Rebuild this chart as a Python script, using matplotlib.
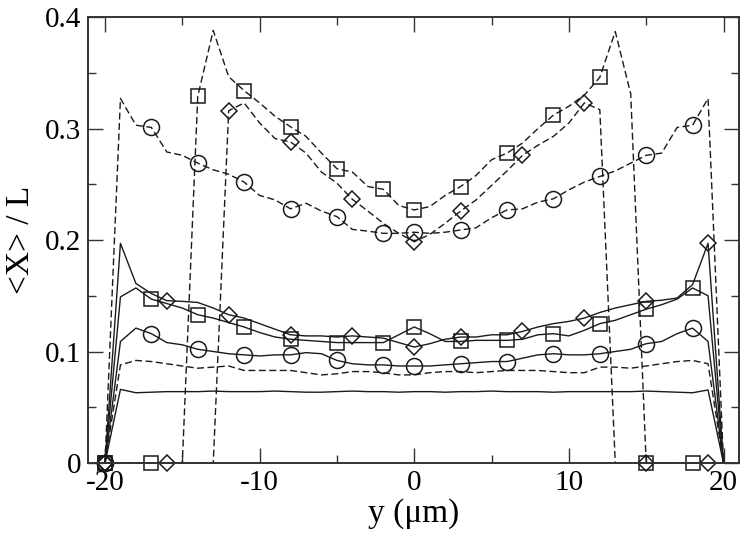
import numpy as np
import matplotlib
matplotlib.use("Agg")
import matplotlib.pyplot as plt
from matplotlib.ticker import MultipleLocator

plt.rcParams['font.family'] = ['Liberation Serif', 'DejaVu Serif']
plt.rcParams['axes.unicode_minus'] = False

# position across the channel (um)
y = list(range(-20, 21))

# solid, no symbols (lowest)
plain_solid = [0, 0.066, 0.063, 0.0635, 0.064, 0.064, 0.064, 0.0645, 0.064, 0.064,
               0.064, 0.0645, 0.064, 0.0635, 0.0635, 0.064, 0.0645, 0.064, 0.064, 0.0635,
               0.064, 0.064, 0.0635, 0.064, 0.064, 0.0645, 0.064, 0.064, 0.064, 0.0635,
               0.064, 0.064, 0.064, 0.064, 0.064, 0.0645, 0.064, 0.0635, 0.063, 0.0655, 0]
# dashed, no symbols
plain_dashed = [0, 0.088, 0.092, 0.091, 0.089, 0.087, 0.085, 0.086, 0.087, 0.083,
                0.083, 0.083, 0.083, 0.081, 0.079, 0.080, 0.082, 0.082, 0.081, 0.079,
                0.079, 0.081, 0.082, 0.082, 0.081, 0.082, 0.083, 0.083, 0.083, 0.082,
                0.081, 0.081, 0.086, 0.086, 0.085, 0.087, 0.089, 0.091, 0.092, 0.089, 0]
# solid with circles
solid_circ = [0, 0.109, 0.121, 0.116, 0.108, 0.106, 0.102, 0.100, 0.098, 0.097,
              0.096, 0.097, 0.097, 0.099, 0.098, 0.092, 0.089, 0.088, 0.088, 0.087,
              0.087, 0.087, 0.088, 0.089, 0.090, 0.091, 0.091, 0.094, 0.097, 0.098,
              0.097, 0.097, 0.098, 0.100, 0.102, 0.107, 0.109, 0.116, 0.121, 0.109, 0]
# solid with squares
solid_sq = [0, 0.149, 0.157, 0.147, 0.143, 0.139, 0.133, 0.130, 0.126, 0.122,
            0.117, 0.113, 0.111, 0.110, 0.109, 0.108, 0.108, 0.108, 0.108, 0.115,
            0.122, 0.116, 0.109, 0.109, 0.110, 0.110, 0.110, 0.111, 0.115, 0.116,
            0.114, 0.119, 0.125, 0.128, 0.133, 0.138, 0.142, 0.147, 0.157, 0.150, 0]
# solid with diamonds
solid_dia = [0, 0.197, 0.161, 0.152, 0.1456, 0.145, 0.144, 0.139, 0.133, 0.130,
             0.125, 0.120, 0.115, 0.114, 0.114, 0.113, 0.114, 0.113, 0.112, 0.108,
             0.104, 0.107, 0.111, 0.113, 0.113, 0.115, 0.115, 0.118, 0.122, 0.125,
             0.127, 0.130, 0.135, 0.139, 0.142, 0.145, 0.146, 0.148, 0.160, 0.197, 0]
# dashed with circles
dash_circ = [0, 0.327, 0.303, 0.301, 0.279, 0.276, 0.269, 0.263, 0.259, 0.252,
             0.240, 0.236, 0.228, 0.233, 0.226, 0.221, 0.2095, 0.208, 0.206, 0.206,
             0.207, 0.206, 0.207, 0.209, 0.211, 0.220, 0.227, 0.228, 0.234, 0.237,
             0.245, 0.252, 0.257, 0.262, 0.269, 0.276, 0.278, 0.301, 0.303, 0.327, 0]
# dashed with squares
dash_sq = [0, 0, 0, 0, 0, 0, 0.329, 0.388, 0.3465, 0.334,
           0.323, 0.311, 0.3016, 0.293, 0.278, 0.264, 0.261, 0.248, 0.2455, 0.231,
           0.227, 0.230, 0.240, 0.248, 0.258, 0.272, 0.278, 0.287, 0.300, 0.312,
           0.320, 0.330, 0.346, 0.387, 0.331, 0, 0, 0, 0, 0, 0]
# dashed with diamonds
dash_dia = [0, 0, 0, 0, 0, 0, 0, 0, 0.316, 0.323,
            0.305, 0.291, 0.288, 0.278, 0.261, 0.251, 0.2365, 0.226, 0.215, 0.206,
            0.1985, 0.205, 0.215, 0.226, 0.236, 0.249, 0.262, 0.276, 0.285, 0.293,
            0.305, 0.323, 0.317, 0, 0, 0, 0, 0, 0, 0, 0]

# where the symbols sit
circ_at = [-20, -17, -14, -11, -8, -5, -2, 0, 3, 6, 9, 12, 15, 18]
sq_at = [-20, -17, -14, -11, -8, -5, -2, 0, 3, 6, 9, 12, 15, 18]
dia_at = [-20, -16, -12, -8, -4, 0, 3, 7, 11, 15, 19]

xticks = [-20, -10, 0, 10, 20]
xtick_labels = ['-20', '-10', '0', '10', '20']
yticks = [0, 0.1, 0.2, 0.3, 0.4]
ytick_labels = ['0', '0.1', '0.2', '0.3', '0.4']

fig = plt.figure(figsize=(7.5, 5.34), dpi=100)
ax = fig.add_axes([0.1173, 0.133, 0.868, 0.835])

col = '#1a1a1a'
dash = (5, 2.5)


def idx(pos):
    return [y.index(p) for p in pos]


ax.plot(y, plain_solid, '-', color=col, lw=1.0)
ax.plot(y, plain_dashed, '--', color=col, lw=1.0, dashes=dash)
ax.plot(y, solid_circ, '-', color=col, lw=1.0, marker='o', ms=11.5, mfc='none',
        mec=col, mew=1.1, markevery=idx(circ_at), clip_on=False)
ax.plot(y, solid_sq, '-', color=col, lw=1.0, marker='s', ms=10.5, mfc='none',
        mec=col, mew=1.1, markevery=idx(sq_at), clip_on=False)
ax.plot(y, solid_dia, '-', color=col, lw=1.0, marker='D', ms=8.5, mfc='none',
        mec=col, mew=1.1, markevery=idx(dia_at), clip_on=False)
ax.plot(y, dash_circ, '--', color=col, lw=1.0, dashes=dash, marker='o', ms=11.5,
        mfc='none', mec=col, mew=1.1, markevery=idx(circ_at), clip_on=False)
ax.plot(y, dash_sq, '--', color=col, lw=1.0, dashes=dash, marker='s', ms=10.5,
        mfc='none', mec=col, mew=1.1, markevery=idx(sq_at), clip_on=False)
ax.plot(y, dash_dia, '--', color=col, lw=1.0, dashes=dash, marker='D', ms=8.5,
        mfc='none', mec=col, mew=1.1, markevery=idx(dia_at), clip_on=False)

ax.set_xlim(-21.1, 21.0)
ax.set_ylim(0, 0.4)
ax.set_xticks(xticks)
ax.set_xticklabels(xtick_labels)
ax.set_yticks(yticks)
ax.set_yticklabels(ytick_labels)
ax.xaxis.set_minor_locator(MultipleLocator(5))
ax.yaxis.set_minor_locator(MultipleLocator(0.05))
ax.tick_params(which='both', direction='in', top=True, right=True,
               labelsize=21, color='#333333', width=1.0)
ax.tick_params(which='major', length=11, pad=5)
ax.tick_params(which='minor', length=6)
for s in ax.spines.values():
    s.set_linewidth(1.4)
    s.set_color('#333333')

ax.set_xlabel('y (μm)', fontsize=24, labelpad=2)
ax.set_ylabel('<X> / L', fontsize=24, labelpad=6)

fig.savefig('out.png', dpi=100)
